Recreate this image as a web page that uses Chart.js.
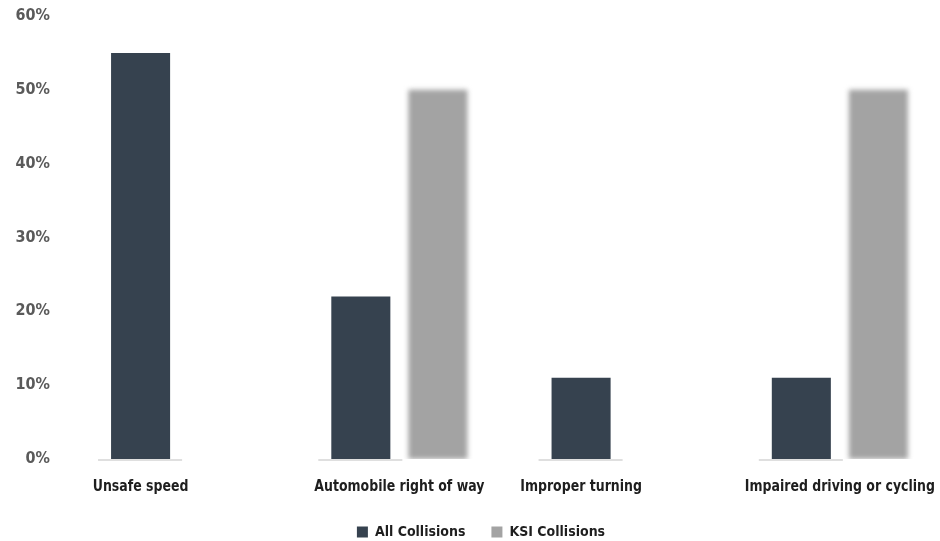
<!DOCTYPE html>
<html>
<head>
<meta charset="utf-8">
<script src="https://cdn.jsdelivr.net/npm/chart.js@4"></script>
<style>
    html, body { margin: 0; padding: 0; background: #fff; overflow: hidden; }
    #wrap { width: 940px; height: 541px; overflow: hidden; }
    canvas { display: block; }
</style>
</head>
<body>
<div id="wrap"><canvas id="causesChart" width="950" height="541"></canvas></div>
<script>
const categories = ['Unsafe speed', 'Automobile right of way', 'Improper turning', 'Impaired driving or cycling'];
const allCollisions = [55, 22, 11, 11];
const ksiCollisions = [null, 50, null, 50];
const yTicks = [0, 10, 20, 30, 40, 50, 60];

const FONT = "'DejaVu Sans Condensed', 'DejaVu Sans', sans-serif";

// category labels go under the bars that are actually shown,
// plus the thin grey base line under each dark bar
const groupLabels = {
    id: 'groupLabels',
    beforeDatasetDraw(chart, args) {
        if (args.index === 1) {
            chart.ctx.save();
            chart.ctx.filter = 'blur(2.5px)';
        }
    },
    afterDatasetDraw(chart, args) {
        if (args.index === 1) chart.ctx.restore();
    },
    afterDatasetsDraw(chart) {
        const ctx = chart.ctx;
        const base = chart.scales.y.getPixelForValue(0);
        const metaAll = chart.getDatasetMeta(0);
        const metaKsi = chart.getDatasetMeta(1);

        ctx.save();
        ctx.strokeStyle = '#d4d4d4';
        ctx.lineWidth = 1.5;
        metaAll.data.forEach(bar => {
            ctx.beginPath();
            ctx.moveTo(bar.x - bar.width / 2 - 13, base + 1);
            ctx.lineTo(bar.x + bar.width / 2 + 12, base + 1);
            ctx.stroke();
        });

        ctx.fillStyle = '#1e1e1e';
        ctx.font = 'bold 16px ' + FONT;
        ctx.textAlign = 'center';
        ctx.textBaseline = 'middle';
        categories.forEach((label, i) => {
            const shown = [metaAll.data[i]];
            if (ksiCollisions[i] !== null) shown.push(metaKsi.data[i]);
            const left = Math.min(...shown.map(b => b.x - b.width / 2));
            const right = Math.max(...shown.map(b => b.x + b.width / 2));
            const cx = (left + right) / 2;
            ctx.save();
            ctx.translate(cx, base + 28);
            ctx.scale(0.87, 1);
            ctx.fillText(label, 0, 0);
            ctx.restore();
        });
        ctx.restore();
    }
};

new Chart(document.getElementById('causesChart'), {
    type: 'bar',
    data: {
        labels: categories,
        datasets: [{
            label: 'All Collisions',
            data: allCollisions,
            backgroundColor: '#36424f',
            borderWidth: 0
        }, {
            label: 'KSI Collisions',
            data: ksiCollisions,
            backgroundColor: '#a3a3a3',
            borderWidth: 0
        }]
    },
    options: {
        responsive: false,
        animation: false,
        devicePixelRatio: 1,
        layout: { padding: { top: 16, right: 0, left: 12, bottom: 0 } },
        datasets: {
            bar: { categoryPercentage: 0.7, barPercentage: 0.766 }
        },
        scales: {
            x: {
                grid: { display: false, drawTicks: false },
                border: { display: false },
                ticks: { display: false },
                afterFit: s => { s.height = 40; }
            },
            y: {
                min: 0,
                max: 60,
                afterBuildTicks: s => { s.ticks = yTicks.map(v => ({ value: v })); },
                afterFit: s => {
                    s.width = 57;
                    s.paddingTop = 0;
                    s.paddingBottom = 0;
                },
                grid: { display: false, drawTicks: false },
                border: { display: false },
                ticks: {
                    padding: 19,
                    color: '#5a5a5a',
                    font: { family: FONT, size: 16, weight: 'bold' },
                    callback: v => v + '%'
                }
            }
        },
        plugins: {
            legend: {
                position: 'bottom',
                maxHeight: 42,
                labels: {
                    boxWidth: 11,
                    boxHeight: 11,
                    padding: 26,
                    color: '#1e1e1e',
                    font: { family: FONT, size: 14, weight: 'bold' }
                }
            },
            tooltip: { enabled: false }
        }
    },
    plugins: [groupLabels]
});
</script>
</body>
</html>
